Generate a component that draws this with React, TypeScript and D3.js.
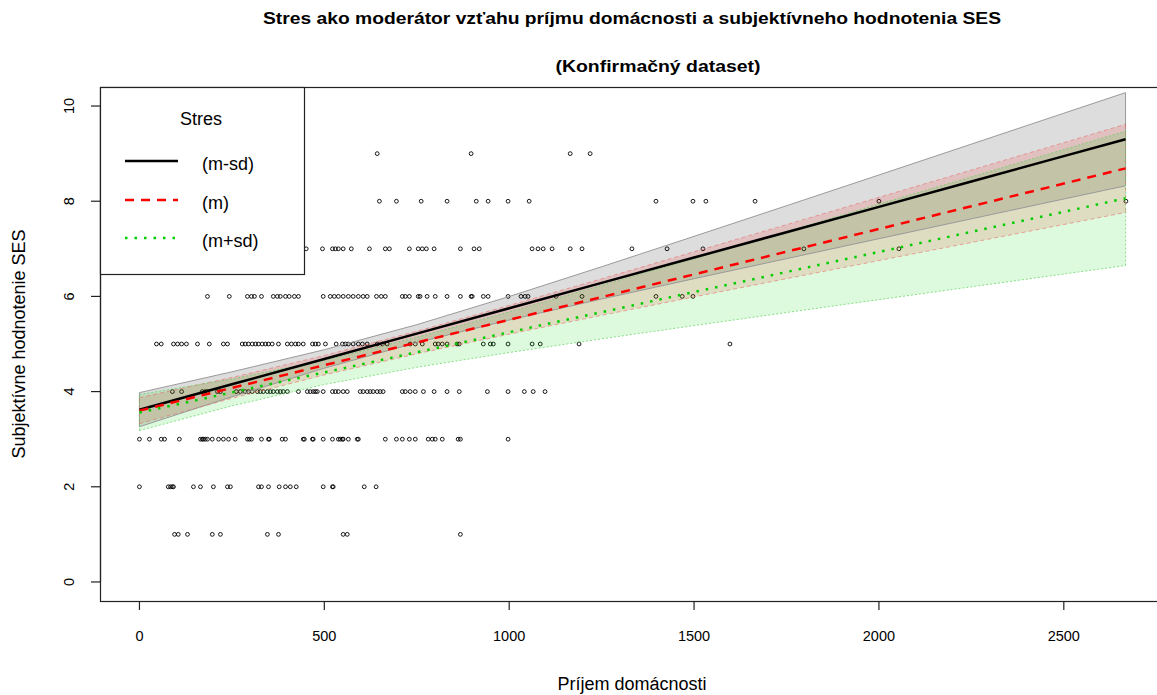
import React from "react";
import * as d3 from "d3";

// ---------- data ----------
const titleMain = "Stres ako moderátor vzťahu príjmu domácnosti a subjektívneho hodnotenia SES";
const titleSub = "(Konfirmačný dataset)";
const xLabel = "Príjem domácnosti";
const yLabel = "Subjektívne hodnotenie SES";
const legendTitle = "Stres";
const legendLabels = ["(m-sd)", "(m)", "(m+sd)"];
const xTicks = [0, 500, 1000, 1500, 2000, 2500];
const yTicks = [0, 2, 4, 6, 8, 10];

// scatter: household income for each SES rating
const incomeSes1 = [95, 105, 130, 197, 219, 346, 376, 551, 562, 868];
const incomeSes2 = [0, 78, 84, 89, 92, 146, 165, 200, 238, 246, 322, 330, 349, 378, 395, 408, 424, 497, 522, 524, 608, 640];
const incomeSes3 = [0, 27, 59, 68, 108, 165, 170, 173, 178, 184, 197, 214, 227, 241, 259, 292, 297, 303, 330, 349, 351, 386, 395, 443, 446, 468, 470, 497, 522, 538, 543, 549, 551, 565, 589, 592, 665, 695, 711, 730, 746, 781, 792, 800, 819, 862, 868, 997];
const incomeSes4 = [89, 114, 170, 178, 184, 211, 219, 262, 273, 286, 295, 305, 319, 327, 335, 346, 354, 362, 373, 381, 389, 400, 430, 454, 462, 470, 476, 481, 497, 522, 530, 538, 551, 562, 597, 605, 616, 624, 632, 643, 651, 659, 711, 719, 732, 746, 768, 797, 832, 865, 941, 997, 1041, 1065, 1097];
const incomeSes5 = [46, 59, 92, 103, 114, 127, 157, 189, 227, 238, 278, 286, 295, 305, 314, 322, 332, 341, 349, 359, 376, 400, 411, 422, 430, 443, 468, 476, 484, 503, 532, 549, 557, 565, 578, 592, 603, 616, 643, 657, 670, 732, 746, 765, 800, 808, 819, 832, 859, 865, 930, 949, 957, 997, 1062, 1084, 1189, 1597];
const incomeSes6 = [184, 243, 292, 303, 311, 330, 362, 373, 381, 395, 405, 419, 430, 497, 516, 527, 538, 551, 565, 578, 592, 605, 616, 641, 654, 665, 711, 719, 730, 754, 759, 778, 800, 832, 868, 897, 900, 930, 943, 997, 1032, 1043, 1051, 1127, 1197, 1397, 1468, 1497];
const incomeSes7 = [451, 495, 522, 530, 538, 551, 573, 622, 665, 676, 730, 754, 765, 776, 797, 868, 905, 919, 1062, 1078, 1092, 1116, 1165, 1197, 1332, 1427, 1524, 1797, 2054];
const incomeSes8 = [649, 695, 762, 832, 911, 943, 997, 1054, 1397, 1497, 1532, 1665, 2000, 2668];
const incomeSes9 = [643, 897, 1165, 1219];
const sesLevels = [1, 2, 3, 4, 5, 6, 7, 8, 9];
const incomeBySes = [incomeSes1, incomeSes2, incomeSes3, incomeSes4, incomeSes5, incomeSes6, incomeSes7, incomeSes8, incomeSes9];

// fitted lines + confidence bands
const incomeGrid = [0, 250, 500, 750, 1000, 1250, 1500, 1750, 2000, 2250, 2500, 2667];
const fitLow = [3.62, 4.153, 4.686, 5.218, 5.751, 6.284, 6.817, 7.349, 7.882, 8.415, 8.948, 9.303];
const upperLow = [3.978, 4.415, 4.88, 5.406, 5.998, 6.623, 7.262, 7.905, 8.551, 9.2, 9.849, 10.282];
const lowerLow = [3.262, 3.891, 4.492, 5.03, 5.504, 5.945, 6.372, 6.793, 7.213, 7.63, 8.047, 8.324];
const fitMid = [3.6, 4.077, 4.554, 5.031, 5.509, 5.986, 6.463, 6.94, 7.417, 7.894, 8.371, 8.69];
const upperMid = [3.874, 4.296, 4.758, 5.268, 5.811, 6.37, 6.937, 7.508, 8.081, 8.655, 9.231, 9.616];
const lowerMid = [3.326, 3.858, 4.35, 4.794, 5.207, 5.602, 5.989, 6.372, 6.753, 7.133, 7.511, 7.764];
const fitHigh = [3.56, 3.982, 4.404, 4.825, 5.247, 5.669, 6.091, 6.513, 6.935, 7.356, 7.778, 8.06];
const upperHigh = [3.939, 4.265, 4.659, 5.14, 5.674, 6.23, 6.795, 7.365, 7.938, 8.511, 9.086, 9.471];
const lowerHigh = [3.181, 3.699, 4.149, 4.51, 4.82, 5.108, 5.387, 5.661, 5.932, 6.201, 6.47, 6.649];

// ---------- layout ----------
const W = 1157;
const H = 695;
const L = 100, R = 1165, T = 87, B = 601;
const FONT = "'Liberation Sans', Arial, Helvetica, sans-serif";

const x = d3.scaleLinear().domain([-106.68, 2773.68]).range([L, R]);
const y = d3.scaleLinear().domain([-0.4, 10.4]).range([B, T]);

const series = [
  { fit: fitLow, lo: lowerLow, hi: upperLow, line: "#000000", dash: "", fill: "rgba(0,0,0,0.135)", border: "#9a9a9a", borderDash: "", width: 2.5 },
  { fit: fitMid, lo: lowerMid, hi: upperMid, line: "#ff0000", dash: "9,7", fill: "rgba(255,0,0,0.13)", border: "rgba(230,110,110,0.6)", borderDash: "4,3", width: 2.5 },
  { fit: fitHigh, lo: lowerHigh, hi: upperHigh, line: "#00cd00", dash: "2.5,7", fill: "rgba(0,220,0,0.13)", border: "rgba(90,210,90,0.7)", borderDash: "2,2", width: 2.5 },
];

export default function App() {
  const idx = incomeGrid.map((_, i) => i);
  const lineGen = (vals: number[]) =>
    d3.line<number>().x((i) => x(incomeGrid[i])).y((i) => y(vals[i]))(idx) || "";
  const areaGen = (lo: number[], hi: number[]) =>
    d3.area<number>().x((i) => x(incomeGrid[i])).y0((i) => y(lo[i])).y1((i) => y(hi[i]))(idx) || "";

  const legendY = [161, 200, 238];

  return (
    <svg
      width={W}
      height={H}
      viewBox={`0 0 ${W} ${H}`}
      style={{ position: "absolute", left: 0, top: 0, display: "block", background: "#fff" }}
      fontFamily={FONT}
    >
      <rect x={0} y={0} width={W} height={H} fill="#fff" />
      {/* titles */}
      <text x={632} y={18} textAnchor="middle" dominantBaseline="central" fontWeight="bold" fontSize={17} textLength={738} lengthAdjust="spacingAndGlyphs">
        {titleMain}
      </text>
      <text x={658} y={66} textAnchor="middle" dominantBaseline="central" fontWeight="bold" fontSize={17} textLength={205} lengthAdjust="spacingAndGlyphs">
        {titleSub}
      </text>

      {/* points */}
      <g fill="none" stroke="#000" strokeWidth={0.9}>
        {sesLevels.map((s, k) =>
          incomeBySes[k].map((inc, j) => <circle key={`${s}-${j}`} cx={x(inc)} cy={y(s)} r={1.9} />)
        )}
      </g>

      {/* bands */}
      {series.map((s, i) => (
        <path key={`a${i}`} d={areaGen(s.lo, s.hi)} fill={s.fill} stroke="none" />
      ))}
      {series.map((s, i) => (
        <g key={`b${i}`} fill="none" stroke={s.border} strokeWidth={1} strokeDasharray={s.borderDash || undefined}>
          <path d={lineGen(s.hi)} />
          <path d={lineGen(s.lo)} />
          <line x1={x(incomeGrid[incomeGrid.length - 1])} x2={x(incomeGrid[incomeGrid.length - 1])} y1={y(s.lo[s.lo.length - 1])} y2={y(s.hi[s.hi.length - 1])} />
          <line x1={x(incomeGrid[0])} x2={x(incomeGrid[0])} y1={y(s.lo[0])} y2={y(s.hi[0])} />
        </g>
      ))}
      {series.map((s, i) => (
        <path key={`l${i}`} d={lineGen(s.fit)} fill="none" stroke={s.line} strokeWidth={s.width} strokeDasharray={s.dash || undefined} />
      ))}

      {/* box */}
      <rect x={L + 0.5} y={T + 0.5} width={R - L} height={B - T} fill="none" stroke="#222" strokeWidth={1.2} />

      {/* x axis */}
      <g stroke="#222" strokeWidth={1.2}>
        <line x1={x(xTicks[0])} x2={x(xTicks[xTicks.length - 1])} y1={B + 0.5} y2={B + 0.5} />
        {xTicks.map((t) => (
          <line key={t} x1={x(t)} x2={x(t)} y1={B} y2={B + 9} />
        ))}
      </g>
      {xTicks.map((t) => (
        <text key={t} x={x(t)} y={636} textAnchor="middle" dominantBaseline="central" fontSize={14.5}>
          {t}
        </text>
      ))}
      <text x={632} y={684} textAnchor="middle" dominantBaseline="central" fontSize={18}>
        {xLabel}
      </text>

      {/* y axis */}
      <g stroke="#222" strokeWidth={1.2}>
        <line x1={L + 0.5} x2={L + 0.5} y1={y(yTicks[0])} y2={y(yTicks[yTicks.length - 1])} />
        {yTicks.map((t) => (
          <line key={t} x1={L} x2={L - 9} y1={y(t)} y2={y(t)} />
        ))}
      </g>
      {yTicks.map((t) => (
        <text key={t} transform={`translate(69,${y(t)}) rotate(-90)`} textAnchor="middle" dominantBaseline="central" fontSize={14.5}>
          {t}
        </text>
      ))}
      <text transform={`translate(19,${(T + B) / 2}) rotate(-90)`} textAnchor="middle" dominantBaseline="central" fontSize={18}>
        {yLabel}
      </text>

      {/* legend */}
      <rect x={L + 0.5} y={T + 0.5} width={204} height={187} fill="#fff" stroke="#222" strokeWidth={1.2} />
      <text x={201} y={119} textAnchor="middle" dominantBaseline="central" fontSize={18}>
        {legendTitle}
      </text>
      {series.map((s, i) => (
        <g key={`lg${i}`}>
          <line x1={125} x2={178} y1={legendY[i]} y2={legendY[i]} stroke={s.line} strokeWidth={2.5} strokeDasharray={s.dash || undefined} />
          <text x={202} y={legendY[i] + 3} dominantBaseline="central" fontSize={18}>
            {legendLabels[i]}
          </text>
        </g>
      ))}
    </svg>
  );
}
